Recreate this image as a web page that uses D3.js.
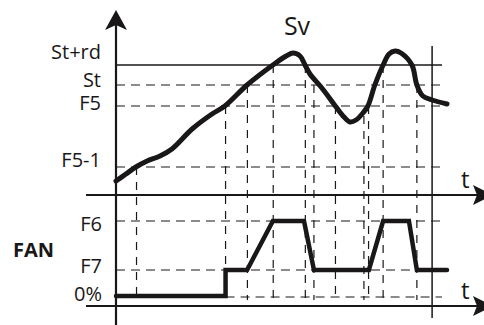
<!DOCTYPE html>
<html><head><meta charset="utf-8">
<script src="https://cdn.jsdelivr.net/npm/d3@7"></script>
<style>html,body{margin:0;padding:0;background:#fff;}svg{display:block;}</style>
</head><body>
<script>
// ---- data ----
const levelLabels = ["St+rd", "St", "F5", "F5-1"];
const levelValues = [130, 110, 89, 28];
const fanLabels = ["F6", "F7", "0%"];
const fanLevels = [75, 26, 0];
const svTime = [0, 3.0, 6.0, 9.4, 13.3, 16.9, 23.0, 29.0, 32.9, 39.6, 47.4, 51.4, 53.5, 55.6, 57.1, 58.6, 62.2, 66.5, 68.9, 70.7, 72.5, 74.6, 76.1, 78.2, 80.7, 82.5, 84.3, 86.1, 89.4, 90.9, 92.7, 95.5, 100];
const svValue = [14, 21, 28, 34, 39, 46, 66, 81, 89, 110, 130, 139, 142, 139, 130, 121, 107, 88, 78, 73, 75, 82, 89, 110, 130, 141, 144, 142, 130, 110, 99, 95, 91];
const fanTime = [0, 33.1, 33.1, 39.6, 47.4, 56.8, 59.8, 76.4, 80.7, 88.5, 90.9, 100];
const fanValue = [0, 0, 26, 26, 75, 75, 26, 26, 75, 75, 26, 26];
const markerTime = [6.2, 33.1, 39.7, 47.5, 57.2, 59.8, 66.3, 74.9, 76.3, 80.7, 90.9];
const markerFrom = [28, 89, 110, 130, 130, 110, 89, 79, 89, 130, 110];
const endTime = 95.5;      // vertical solid line
const gridEnd = 98.5;      // where the level lines stop

// ---- layout ----
const W = 484, H = 325;
const ink = "#1a1718";
const font = "'Open Sans', 'Noto Sans', sans-serif";
const svg = d3.select("body").append("svg").attr("width", W).attr("height", H);

const x = d3.scaleLinear().domain([0, 100]).range([116, 447]);
const yTop = d3.scaleLinear().domain([0, 185]).range([195, 10]);
const yFan = d3.scaleLinear().domain([0, 100]).range([296, 196]);
const lowerAxisY = yFan(0) + 10;
const markerBottom = yFan(0) + 4;

// dashed level lines (top)
svg.selectAll("line.lvl").data(levelValues.slice(1)).join("line")
  .attr("x1", x(0)).attr("x2", x(gridEnd))
  .attr("y1", d => yTop(d)).attr("y2", d => yTop(d))
  .attr("stroke", ink).attr("stroke-width", 1.2).attr("stroke-dasharray", "9,6");
// St+rd solid line
svg.append("line").attr("x1", x(0)).attr("x2", x(gridEnd))
  .attr("y1", yTop(levelValues[0])).attr("y2", yTop(levelValues[0]))
  .attr("stroke", ink).attr("stroke-width", 1.5);

// dashed fan level lines
svg.selectAll("line.fl").data(fanLevels.slice(0, 2)).join("line")
  .attr("x1", x(0)).attr("x2", x(gridEnd))
  .attr("y1", d => yFan(d)).attr("y2", d => yFan(d))
  .attr("stroke", ink).attr("stroke-width", 1.2).attr("stroke-dasharray", "9,6");
svg.append("line").attr("x1", x(fanTime[1])).attr("x2", x(gridEnd))
  .attr("y1", yFan(0) + 1).attr("y2", yFan(0) + 1)
  .attr("stroke", ink).attr("stroke-width", 1.2).attr("stroke-dasharray", "9,6");

// vertical marker lines
svg.selectAll("line.mk").data(markerTime).join("line")
  .attr("x1", d => x(d)).attr("x2", d => x(d))
  .attr("y1", (d, i) => yTop(markerFrom[i])).attr("y2", markerBottom)
  .attr("stroke", ink).attr("stroke-width", 1.2).attr("stroke-dasharray", "8,7");

// right vertical solid line
svg.append("line").attr("x1", x(endTime)).attr("x2", x(endTime))
  .attr("y1", 46).attr("y2", 318).attr("stroke", ink).attr("stroke-width", 1.5);

// axes
function hArrow(y) {
  svg.append("line").attr("x1", 86).attr("x2", 478).attr("y1", y).attr("y2", y)
    .attr("stroke", ink).attr("stroke-width", 2.2);
  svg.append("path").attr("d", `M473,${y - 10} L493,${y} L473,${y + 10} L477,${y} Z`).attr("fill", ink);
}
hArrow(yTop(0));
hArrow(lowerAxisY);
svg.append("line").attr("x1", x(0)).attr("x2", x(0)).attr("y1", 24).attr("y2", H)
  .attr("stroke", ink).attr("stroke-width", 2.2);
svg.append("path").attr("d", `M${x(0)},10 L${x(0) + 11},30 L${x(0)},25 L${x(0) - 11},30 Z`).attr("fill", ink);

// Sv curve
const svLine = d3.line().x(d => x(d[0])).y(d => yTop(d[1])).curve(d3.curveCatmullRom.alpha(0.5));
svg.append("path").datum(svTime.map((t, i) => [t, svValue[i]]))
  .attr("d", svLine).attr("fill", "none").attr("stroke", ink)
  .attr("stroke-width", 5).attr("stroke-linecap", "round").attr("stroke-linejoin", "round");

// Fan curve
const fanLine = d3.line().x(d => x(d[0])).y(d => yFan(d[1]));
svg.append("path").datum(fanTime.map((t, i) => [t, fanValue[i]]))
  .attr("d", fanLine).attr("fill", "none").attr("stroke", ink)
  .attr("stroke-width", 4.5).attr("stroke-linecap", "round").attr("stroke-linejoin", "miter");

// labels
const levelDy = [-6, 2, 4, 0];
svg.selectAll("text.lv").data(levelLabels).join("text")
  .attr("x", 101).attr("y", (d, i) => yTop(levelValues[i]) + levelDy[i])
  .attr("text-anchor", "end").attr("font-family", font).attr("font-size", 20).attr("fill", ink)
  .text(d => d);
const fanDy = [10, 3, 5];
svg.selectAll("text.fn").data(fanLabels).join("text")
  .attr("x", 102).attr("y", (d, i) => yFan(fanLevels[i]) + fanDy[i])
  .attr("text-anchor", "end").attr("font-family", font).attr("font-size", 20).attr("fill", ink)
  .text(d => d);
svg.append("text").attr("x", 13).attr("y", 257).attr("font-family", font).attr("font-weight", "bold")
  .attr("font-size", 20).attr("fill", ink).text("FAN");
svg.append("text").attr("x", 297).attr("y", 35).attr("text-anchor", "middle").attr("font-family", font)
  .attr("font-size", 25).attr("fill", ink).text("Sv");
svg.append("text").attr("x", 461).attr("y", yTop(0) - 7).attr("font-family", font)
  .attr("font-size", 24).attr("fill", ink).text("t");
svg.append("text").attr("x", 461).attr("y", lowerAxisY - 7).attr("font-family", font)
  .attr("font-size", 24).attr("fill", ink).text("t");
</script>
</body></html>
